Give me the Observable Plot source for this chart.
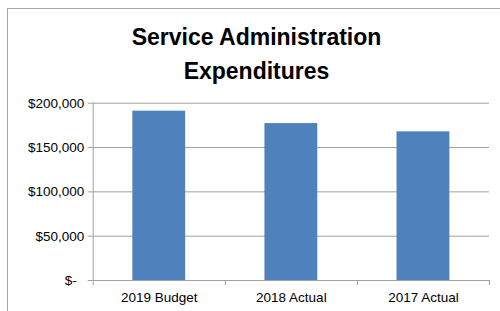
<!DOCTYPE html>
<html>
<head>
<meta charset="utf-8">
<script src="https://cdn.jsdelivr.net/npm/d3@7"></script>
<script src="https://cdn.jsdelivr.net/npm/@observablehq/plot@0.6"></script>
<style>
  html, body { margin: 0; padding: 0; background: #fff; }
  body { width: 500px; height: 311px; overflow: hidden; position: relative; font-family: "Liberation Sans", Arial, sans-serif; }
  #frame { position: absolute; left: 7px; top: 8px; width: 600px; height: 400px; border-left: 1px solid #a6a6a6; border-top: 1px solid #a6a6a6; }
  #title { position: absolute; left: 0; top: 20px; width: 513px; text-align: center; font-weight: bold; font-size: 23px; line-height: 34px; color: #000; }
  #chart { position: absolute; left: 0; top: 90px; }
</style>
</head>
<body>
<div id="frame"></div>
<div id="title">Service Administration<br>Expenditures</div>
<div id="chart"></div>
<script>
const categories = ["2019 Budget", "2018 Actual", "2017 Actual"];
const values = [191000, 177000, 167700];
const yTicks = [0, 50000, 100000, 150000, 200000];

const data = categories.map((c, i) => ({ i, category: c, value: values[i] }));
const boundaries = d3.range(-0.5, categories.length, 1);
const fmt = d3.format(",");

const chart = Plot.plot({
  width: 500,
  height: 221,
  marginLeft: 92.7,
  marginRight: 11,
  marginTop: 12.7,
  marginBottom: 31,
  style: { fontFamily: "Liberation Sans, Arial, sans-serif", fontSize: "13.5px", color: "#000", background: "transparent" },
  x: { type: "linear", domain: [-0.5, categories.length - 0.5] },
  y: { domain: [0, 200000] },
  marks: [
    Plot.ruleY(yTicks, { stroke: "#a0a0a0", strokeWidth: 1 }),
    Plot.ruleX([-0.5], { y1: 0, y2: 200000, stroke: "#a0a0a0" }),
    Plot.rectY(data, { x1: d => d.i - 0.2, x2: d => d.i + 0.2, y1: 0, y2: "value", fill: "#4f81bd" }),
    Plot.axisY({ ticks: yTicks, tickSize: 5, tickPadding: 4, stroke: "#a0a0a0", strokeOpacity: 1,
      tickFormat: d => d === 0 ? "$-\u00a0\u00a0" : "$" + fmt(d), fill: "#000", label: null }),
    Plot.axisX({ ticks: boundaries, tickSize: 5, tickFormat: () => "", stroke: "#a0a0a0", strokeOpacity: 1, label: null }),
    Plot.axisX({ ticks: data.map(d => d.i), tickSize: 0, tickPadding: 12, tickFormat: i => categories[i], fill: "#000", label: null })
  ]
});
document.getElementById("chart").appendChild(chart);
</script>
</body>
</html>
